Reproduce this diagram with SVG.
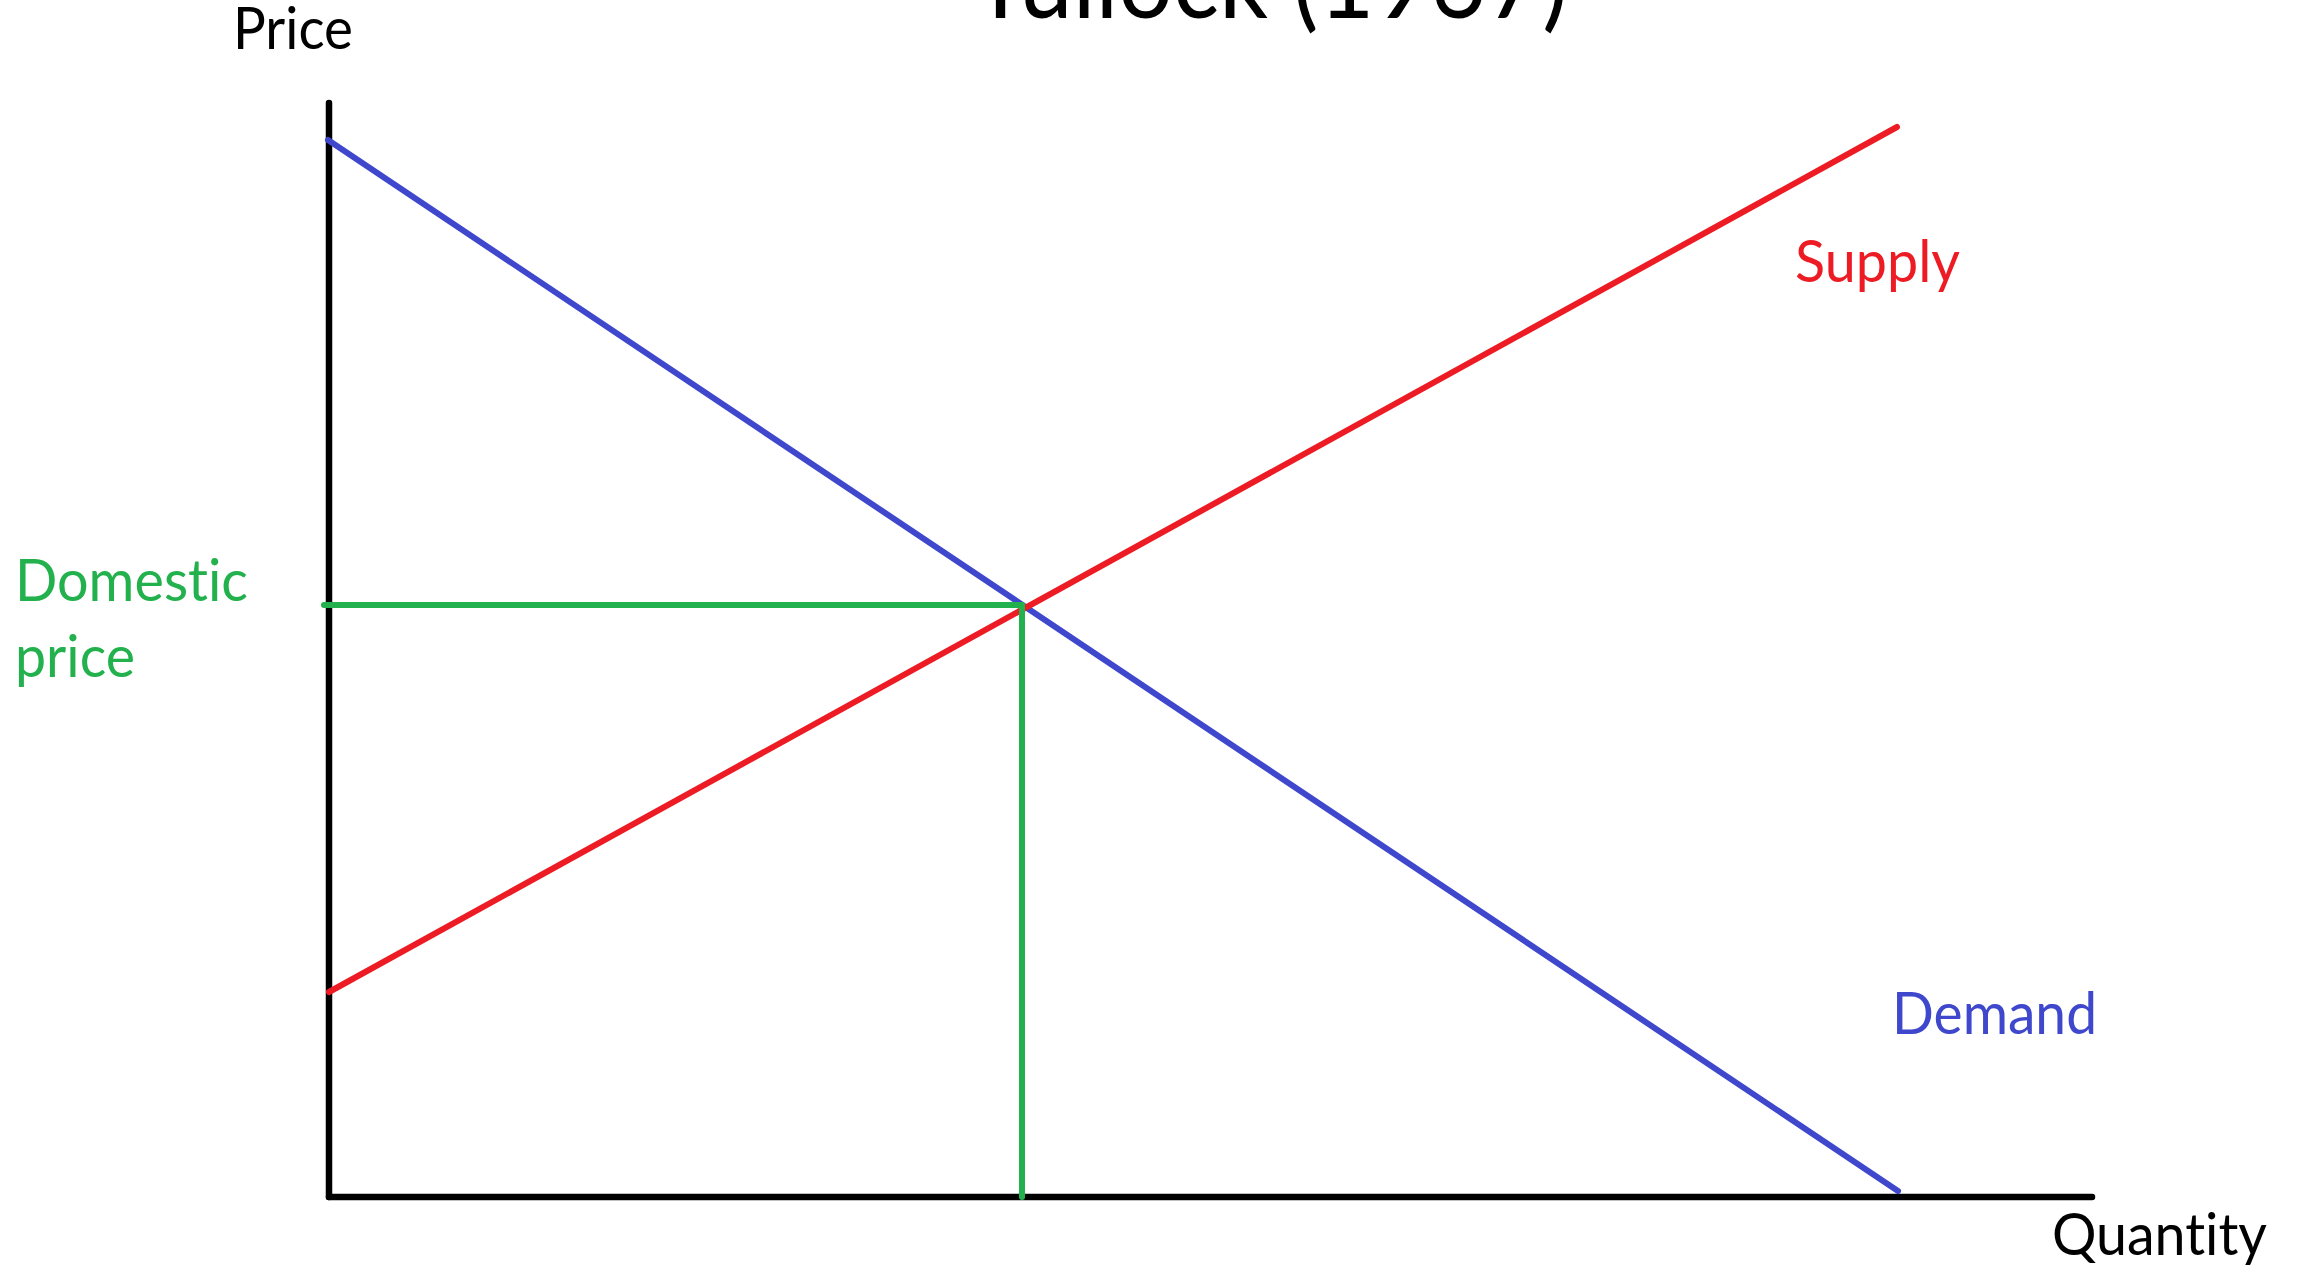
<svg xmlns="http://www.w3.org/2000/svg" width="2298" height="1271" viewBox="0 0 2298 1271">
<style>
text{font-family:Lato,"Open Sans","Liberation Sans",sans-serif;font-variant-ligatures:none;}
.lbl{font-size:58px;}
.ax{stroke:#000;stroke-width:6.5;stroke-linecap:round;fill:none}
.ln{stroke-width:6;stroke-linecap:round;fill:none}
</style>
<rect width="2298" height="1271" fill="#fff"/>
<g id="title"><text x="972" y="18" font-size="104" textLength="596" lengthAdjust="spacingAndGlyphs">Tullock (1967)</text></g>
<g id="axes">
<line class="ax" x1="329" y1="103" x2="329" y2="1197"/>
<line class="ax" x1="329" y1="1197" x2="2092" y2="1197"/>
</g>
<g id="connectors">
<line id="demand-line" class="ln" stroke="#3F48CC" x1="328" y1="140" x2="1898" y2="1191"/>
<line id="supply-line" class="ln" stroke="#ED1C24" x1="329" y1="992" x2="1897" y2="127"/>
<line id="domestic-h" class="ln" stroke="#22B14C" x1="324" y1="605" x2="1022" y2="605"/>
<line id="domestic-v" class="ln" stroke="#22B14C" x1="1022" y1="605" x2="1022" y2="1197"/>
</g>
<g id="price-label"><text class="lbl" x="233" y="49" textLength="120" lengthAdjust="spacingAndGlyphs">Price</text></g>
<g id="domestic-label" fill="#22B14C">
<text class="lbl" x="15" y="601" textLength="233" lengthAdjust="spacingAndGlyphs">Domestic</text>
<text class="lbl" x="15" y="677" textLength="120" lengthAdjust="spacingAndGlyphs">price</text>
</g>
<g id="supply-label"><text class="lbl" x="1795" y="282" fill="#ED1C24" textLength="165" lengthAdjust="spacingAndGlyphs">Supply</text></g>
<g id="demand-label"><text class="lbl" x="1892" y="1034" fill="#3F48CC" textLength="205" lengthAdjust="spacingAndGlyphs">Demand</text></g>
<g id="quantity-label"><text class="lbl" x="2052" y="1255" textLength="215" lengthAdjust="spacingAndGlyphs">Quantity</text></g>
</svg>
